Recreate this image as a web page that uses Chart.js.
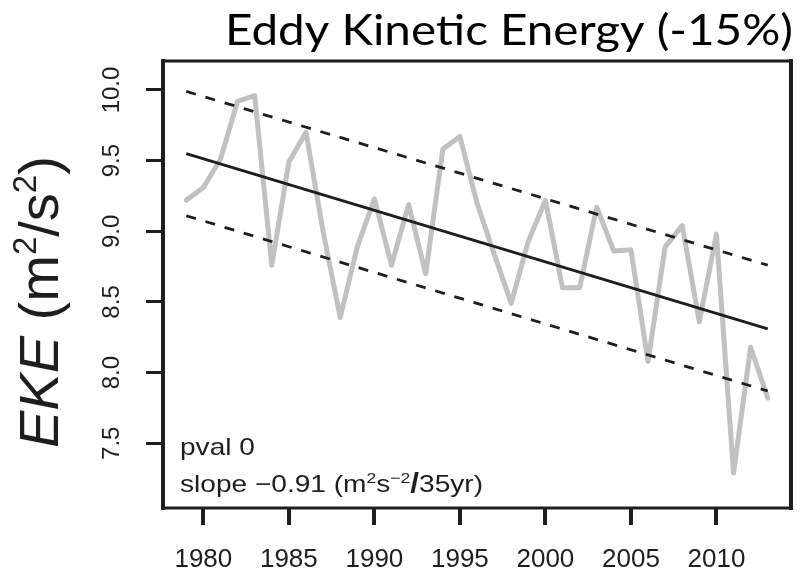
<!DOCTYPE html>
<html>
<head>
<meta charset="utf-8">
<script src="https://cdn.jsdelivr.net/npm/chart.js@4/dist/chart.umd.min.js"></script>
<style>
  html, body { margin: 0; padding: 0; background: #ffffff; }
  #wrap { width: 801px; height: 569px; }
</style>
</head>
<body>
<div id="wrap"><canvas id="eke" width="801" height="569"></canvas></div>
<script>
// Annual eddy kinetic energy, 1979-2013
const years = [1979, 1980, 1981, 1982, 1983, 1984, 1985, 1986, 1987, 1988,
               1989, 1990, 1991, 1992, 1993, 1994, 1995, 1996, 1997, 1998,
               1999, 2000, 2001, 2002, 2003, 2004, 2005, 2006, 2007, 2008,
               2009, 2010, 2011, 2012, 2013];
const ekeValues = [9.22, 9.31, 9.51, 9.92, 9.96, 8.76, 9.49, 9.70, 9.00, 8.39,
                   8.89, 9.23, 8.76, 9.19, 8.70, 9.58, 9.67, 9.20, 8.84, 8.49,
                   8.93, 9.22, 8.60, 8.60, 9.17, 8.86, 8.87, 8.08, 8.89, 9.04,
                   8.36, 8.98, 7.29, 8.18, 7.82];

// Linear trend and its band, at the first and last year
const trendYears = [1979, 2013];
const trendValues = [9.55, 8.31];
const upperBand = [9.99, 8.76];
const lowerBand = [9.11, 7.87];

// Axis ticks
const xTickValues = [1980, 1985, 1990, 1995, 2000, 2005, 2010];
const yTickValues = [7.5, 8.0, 8.5, 9.0, 9.5, 10.0];

const SANS = "'Liberation Sans', Arial, Helvetica, sans-serif";
const INK = '#1e1e1e';

const toPoints = (xs, ys) => xs.map((x, i) => ({ x: x, y: ys[i] }));

// Width of a run of text pieces
function runWidth(ctx, pieces) {
  let w = 0;
  for (const p of pieces) {
    ctx.font = p.font;
    w += ctx.measureText(p.text).width + (p.gap || 0);
  }
  return w;
}

// Draws a run of text pieces one after another along a baseline
function drawRun(ctx, pieces, x, y) {
  let cx = x;
  for (const p of pieces) {
    ctx.font = p.font;
    ctx.fillText(p.text, cx, y - (p.raise || 0));
    cx += ctx.measureText(p.text).width + (p.gap || 0);
  }
}

// Box around the plotting region
const framePlugin = {
  id: 'frame',
  afterDatasetsDraw(chart) {
    const { ctx, chartArea: a } = chart;
    ctx.save();
    ctx.strokeStyle = INK;
    ctx.lineCap = 'square';
    ctx.beginPath();
    ctx.lineWidth = 3;
    ctx.moveTo(a.left, a.top); ctx.lineTo(a.right, a.top);
    ctx.moveTo(a.left, a.bottom); ctx.lineTo(a.right, a.bottom);
    ctx.stroke();
    ctx.beginPath();
    ctx.lineWidth = 4;
    ctx.moveTo(a.left, a.top); ctx.lineTo(a.left, a.bottom);
    ctx.moveTo(a.right, a.top); ctx.lineTo(a.right, a.bottom);
    ctx.stroke();
    ctx.restore();
  }
};

// Title, axis title and the fit statistics
const textPlugin = {
  id: 'texts',
  afterDraw(chart) {
    const { ctx, chartArea: a } = chart;
    ctx.save();
    ctx.textAlign = 'left';
    ctx.textBaseline = 'alphabetic';

    // Title
    const title = 'Eddy Kinetic Energy (-15%)';
    ctx.fillStyle = '#000000';
    ctx.font = "42px Lato, 'Open Sans', sans-serif";
    const tw = ctx.measureText(title).width;
    ctx.save();
    ctx.translate(225, 45);
    ctx.scale(568 / tw, 1);
    ctx.fillText(title, 0, 0);
    ctx.restore();

    // Y axis title, reading upwards
    ctx.fillStyle = INK;
    ctx.save();
    ctx.translate(58, 448);
    ctx.rotate(-Math.PI / 2);
    drawRun(ctx, [
      { text: 'EKE', font: 'italic 56px ' + SANS },
      { text: ' (m', font: '56px ' + SANS },
      { text: '2', font: '33px ' + SANS, raise: 22 },
      { text: '/s', font: '56px ' + SANS },
      { text: '2', font: '33px ' + SANS, raise: 22 },
      { text: ')', font: '56px ' + SANS }
    ], 0, 0);
    ctx.restore();

    // Fit statistics in the lower left corner, set a little wide
    const x0 = a.left + 17;
    const pvalRun = [{ text: 'pval 0', font: '24px ' + SANS }];
    const slopeRun = [
      { text: 'slope \u22120.91 (m', font: '24px ' + SANS },
      { text: '2', font: '15px ' + SANS, raise: 9 },
      { text: 's', font: '24px ' + SANS },
      { text: '\u22122', font: '15px ' + SANS, raise: 9 },
      { text: '/', font: 'bold 27px ' + SANS },
      { text: '35yr)', font: '24px ' + SANS }
    ];
    const sx = 303 / runWidth(ctx, slopeRun);
    ctx.save();
    ctx.translate(x0, 0);
    ctx.scale(sx, 1);
    drawRun(ctx, pvalRun, 0, 455);
    drawRun(ctx, slopeRun, 0, 492);
    ctx.restore();
    ctx.restore();
  }
};

const lineBase = { pointRadius: 0, tension: 0, fill: false };

new Chart(document.getElementById('eke'), {
  type: 'line',
  data: {
    datasets: [
      Object.assign({}, lineBase, {
        label: 'trend',
        data: toPoints(trendYears, trendValues),
        borderColor: INK, borderWidth: 2.8
      }),
      Object.assign({}, lineBase, {
        label: 'upper',
        data: toPoints(trendYears, upperBand),
        borderColor: INK, borderWidth: 2.8, borderDash: [10, 10]
      }),
      Object.assign({}, lineBase, {
        label: 'lower',
        data: toPoints(trendYears, lowerBand),
        borderColor: INK, borderWidth: 2.8, borderDash: [10, 10]
      }),
      Object.assign({}, lineBase, {
        label: 'EKE',
        data: toPoints(years, ekeValues),
        borderColor: '#c0c1c3', borderWidth: 5,
        borderJoinStyle: 'round', borderCapStyle: 'round'
      })
    ]
  },
  options: {
    responsive: false,
    animation: false,
    events: [],
    layout: { autoPadding: false, padding: { top: 61, right: 10, bottom: 0, left: 0 } },
    plugins: {
      legend: { display: false },
      title: { display: false },
      tooltip: { enabled: false }
    },
    scales: {
      x: {
        type: 'linear',
        min: 1977.64,
        max: 2014.36,
        afterBuildTicks: s => { s.ticks = xTickValues.map(v => ({ value: v })); },
        afterFit: s => { s.height = 61; },
        border: { display: false },
        grid: {
          display: true, drawOnChartArea: false, drawTicks: true,
          tickLength: 17, tickWidth: 4, lineWidth: 4, tickColor: INK, color: INK
        },
        ticks: {
          autoSkip: false, minRotation: 0, maxRotation: 0, padding: 19,
          color: INK, font: { family: SANS, size: 26 },
          callback: v => String(v)
        }
      },
      y: {
        type: 'linear',
        min: 7.042,
        max: 10.205,
        afterBuildTicks: s => { s.ticks = yTickValues.map(v => ({ value: v })); },
        afterFit: s => { s.width = 163; },
        border: { display: false },
        grid: {
          display: true, drawOnChartArea: false, drawTicks: true,
          tickLength: 17, tickWidth: 3, lineWidth: 3, tickColor: INK, color: INK
        },
        ticks: {
          autoSkip: false, minRotation: 90, maxRotation: 90, padding: 10,
          crossAlign: 'center',
          color: INK, font: { family: SANS, size: 24 },
          callback: v => v.toFixed(1)
        }
      }
    }
  },
  plugins: [framePlugin, textPlugin]
});
</script>
</body>
</html>
